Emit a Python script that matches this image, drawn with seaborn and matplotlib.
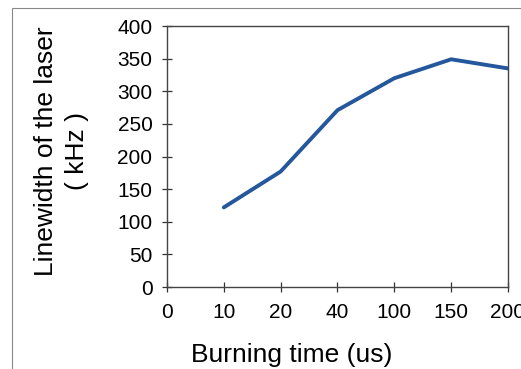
import pandas as pd
import matplotlib.pyplot as plt
import seaborn as sns
from matplotlib.patches import Rectangle

# Axis categories (equally spaced on the chart) and measured linewidth
tick_labels = ['0', '10', '20', '40', '100', '150', '200']
burning_time = ['10', '20', '40', '100', '150', '200']   # us
linewidth_khz = [122, 177, 271, 320, 349, 335]             # kHz

sns.set_style('white')
plt.rcParams['font.family'] = ['Liberation Sans', 'DejaVu Sans']

df = pd.DataFrame({
    'pos': [tick_labels.index(t) for t in burning_time],
    'Linewidth': linewidth_khz,
})

fig = plt.figure(figsize=(5.21, 3.69), dpi=100)
ax = fig.add_axes([0.3205, 0.2222, 0.6545, 0.7073])

sns.lineplot(data=df, x='pos', y='Linewidth', ax=ax, color='#24579c', linewidth=2.8)

ax.set_xlim(0, 6)
ax.set_ylim(0, 400)
ax.set_xticks(range(len(tick_labels)))
ax.set_xticklabels(tick_labels)
ax.set_yticks(range(0, 401, 50))
ax.tick_params(bottom=True, left=True, direction='inout', length=7, width=0.9,
               color='#333333', labelsize=15, labelcolor='black', pad=7)
ax.tick_params(axis='x', pad=8)
for s in ax.spines.values():
    s.set_color('#444444')
    s.set_linewidth(1.0)

ax.set_xlabel('Burning time (us)', fontsize=19, color='black')
ax.xaxis.set_label_coords(0.367, -0.215)
ax.set_ylabel('Linewidth of the laser\n( kHz )', fontsize=19, color='black',
              linespacing=1.4)
ax.yaxis.set_label_coords(-0.228, 0.52)

# outer frame of the original figure
fig.patches.append(Rectangle((12 / 521, -0.01), 1.1, 1 - 8 / 369 + 0.01,
                             transform=fig.transFigure, fill=False,
                             edgecolor='#888888', linewidth=0.8))

fig.savefig('out.png', dpi=100)
